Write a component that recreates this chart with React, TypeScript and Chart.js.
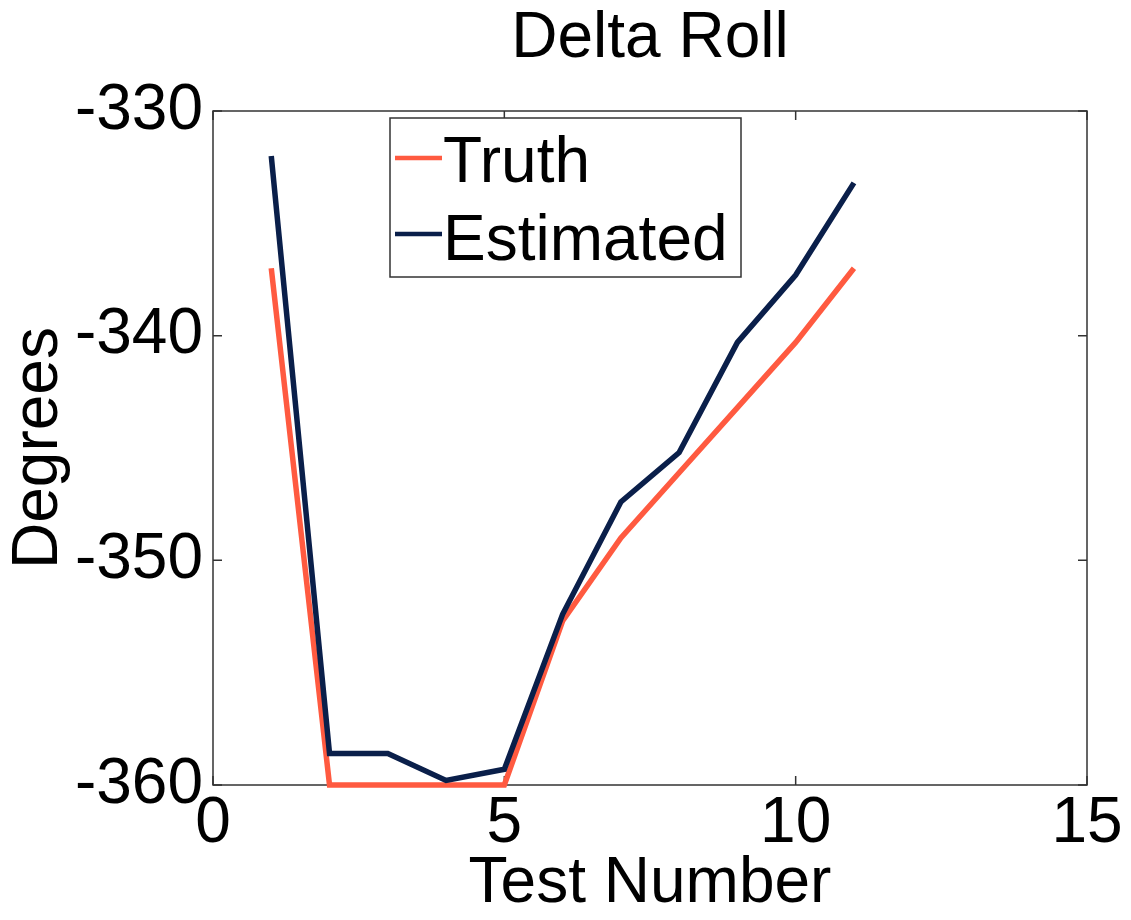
import React, { useEffect, useRef } from "react";
import { Chart, registerables } from "chart.js";

Chart.register(...registerables);

const testNumbers = [1, 2, 3, 4, 5, 6, 7, 8, 9, 10, 11];
const truthValues = [-337, -360, -360, -360, -360, -352.7, -349, -346.1, -343.2, -340.3, -337];
const estimatedValues = [-332, -358.6, -358.6, -359.8, -359.3, -352.4, -347.4, -345.2, -340.3, -337.3, -333.2];
const xTickValues = [0, 5, 10, 15];
const yTickValues = [-360, -350, -340, -330];
const seriesLabels = ["Truth", "Estimated"];
const seriesColors = ["#FF5A40", "#0A1F4A"];
const chartTitle = "Delta Roll";
const xAxisTitle = "Test Number";
const yAxisTitle = "Degrees";

const FONT = '"Liberation Sans", Arial, Helvetica, sans-serif';

const framePlugin = {
  id: "matlabFrame",
  beforeDatasetsDraw(chart: any) {
    const { ctx, chartArea: ca, scales } = chart;
    ctx.save();
    ctx.strokeStyle = "#333333";
    ctx.lineWidth = 1.5;
    ctx.strokeRect(ca.left, ca.top, ca.right - ca.left, ca.bottom - ca.top);
    const tl = 9;
    ctx.beginPath();
    xTickValues.forEach((v) => {
      const px = scales.x.getPixelForValue(v);
      ctx.moveTo(px, ca.bottom);
      ctx.lineTo(px, ca.bottom - tl);
      ctx.moveTo(px, ca.top);
      ctx.lineTo(px, ca.top + tl);
    });
    yTickValues.forEach((v) => {
      const py = scales.y.getPixelForValue(v);
      ctx.moveTo(ca.left, py);
      ctx.lineTo(ca.left + tl, py);
      ctx.moveTo(ca.right, py);
      ctx.lineTo(ca.right - tl, py);
    });
    ctx.stroke();
    ctx.restore();
  },
  afterDraw(chart: any) {
    const { ctx, chartArea: ca } = chart;
    const left = ca.left + 177;
    const top = ca.top + 7;
    const w = 351;
    const h = 159;
    ctx.save();
    ctx.fillStyle = "#ffffff";
    ctx.fillRect(left, top, w, h);
    ctx.strokeStyle = "#333333";
    ctx.lineWidth = 1.5;
    ctx.strokeRect(left, top, w, h);
    const rows = [
      { y: top + 40, base: top + 64 },
      { y: top + 116, base: top + 142 },
    ];
    seriesLabels.forEach((label, i) => {
      ctx.strokeStyle = seriesColors[i];
      ctx.lineWidth = 4.5;
      ctx.beginPath();
      ctx.moveTo(left + 5, rows[i].y);
      ctx.lineTo(left + 52, rows[i].y);
      ctx.stroke();
      ctx.fillStyle = "#000000";
      ctx.font = `64px ${FONT}`;
      ctx.textAlign = "left";
      ctx.textBaseline = "alphabetic";
      ctx.fillText(label, left + 53, rows[i].base);
    });
    ctx.restore();
  },
};

export default function App() {
  const canvasRef = useRef<HTMLCanvasElement | null>(null);

  useEffect(() => {
    if (!canvasRef.current) return;
    const chart = new Chart(canvasRef.current, {
      type: "line",
      data: {
        labels: testNumbers,
        datasets: [
          {
            label: seriesLabels[1],
            data: testNumbers.map((x, i) => ({ x, y: estimatedValues[i] })),
            borderColor: seriesColors[1],
            backgroundColor: seriesColors[1],
            borderWidth: 5.5,
            pointRadius: 0,
            tension: 0,
            clip: 10,
            order: 0,
          },
          {
            label: seriesLabels[0],
            data: testNumbers.map((x, i) => ({ x, y: truthValues[i] })),
            borderColor: seriesColors[0],
            backgroundColor: seriesColors[0],
            borderWidth: 5.5,
            pointRadius: 0,
            tension: 0,
            clip: 10,
            order: 1,
          },
        ],
      },
      options: {
        responsive: false,
        animation: false,
        layout: { padding: { left: 0, right: 44, top: 0, bottom: 0 } },
        plugins: {
          legend: { display: false },
          title: { display: false },
          tooltip: { enabled: false },
        },
        scales: {
          x: {
            type: "linear",
            position: "bottom",
            min: 0,
            max: 15,
            afterBuildTicks: (scale: any) => {
              scale.ticks = xTickValues.map((v) => ({ value: v }));
            },
            afterFit: (scale: any) => {
              scale.height = 135;
            },
            grid: { display: false, drawTicks: false },
            border: { display: false },
            ticks: {
              autoSkip: false,
              maxRotation: 0,
              padding: 7,
              color: "#000000",
              font: { family: FONT, size: 64, lineHeight: 1 },
            },
            title: {
              display: true,
              text: xAxisTitle,
              color: "#000000",
              font: { family: FONT, size: 64, lineHeight: 1 },
              padding: { top: 0, bottom: 4 },
            },
          },
          xTop: {
            type: "linear",
            position: "top",
            min: 0,
            max: 15,
            afterFit: (scale: any) => {
              scale.height = 111;
            },
            grid: { display: false, drawTicks: false },
            border: { display: false },
            ticks: { display: false },
            title: {
              display: true,
              text: chartTitle,
              color: "#000000",
              font: { family: FONT, size: 64, lineHeight: 1 },
              padding: { top: 7, bottom: 0 },
            },
          },
          y: {
            type: "linear",
            position: "left",
            min: -360,
            max: -330,
            afterBuildTicks: (scale: any) => {
              scale.ticks = yTickValues.map((v) => ({ value: v }));
            },
            afterFit: (scale: any) => {
              scale.width = 213;
            },
            grid: { display: false, drawTicks: false },
            border: { display: false },
            ticks: {
              padding: 10,
              color: "#000000",
              font: { family: FONT, size: 64, lineHeight: 1 },
            },
            title: {
              display: true,
              text: yAxisTitle,
              color: "#000000",
              font: { family: FONT, size: 64, lineHeight: 1 },
              padding: { top: 7, bottom: 0 },
            },
          },
        },
      },
      plugins: [framePlugin],
    });
    return () => chart.destroy();
  }, []);

  return (
    <div style={{ position: "fixed", left: 0, top: 0, width: 1131, height: 920, background: "#ffffff" }}>
      <canvas ref={canvasRef} width={1131} height={920} />
    </div>
  );
}
